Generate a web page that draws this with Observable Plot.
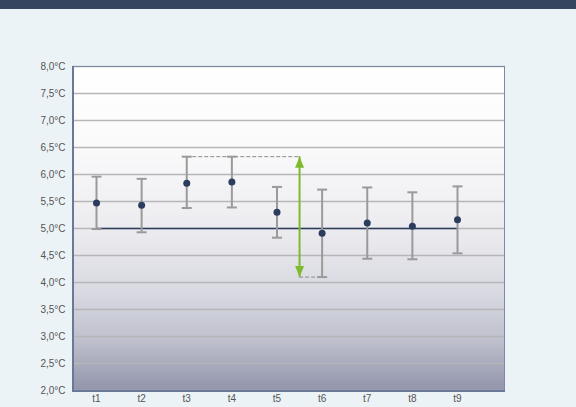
<!DOCTYPE html>
<html>
<head>
<meta charset="utf-8">
<script src="https://cdn.jsdelivr.net/npm/d3@7"></script>
<script src="https://cdn.jsdelivr.net/npm/@observablehq/plot@0.6"></script>
<style>
  body { margin: 0; background: #ecf3f7; width: 576px; height: 407px; overflow: hidden; }
  #banner { height: 9px; background: #35455f; }
  #chart svg { display: block; background: transparent; }
</style>
</head>
<body>
<div id="banner"></div>
<div id="chart"></div>
<script>
// Measurement points and their statistics
const labels = ["t1", "t2", "t3", "t4", "t5", "t6", "t7", "t8", "t9"];
const means  = [5.47, 5.43, 5.84, 5.86, 5.30, 4.91, 5.10, 5.04, 5.16];
const upper  = [5.96, 5.92, 6.33, 6.33, 5.77, 5.72, 5.76, 5.67, 5.78];
const lower  = [4.99, 4.93, 5.38, 5.39, 4.83, 4.10, 4.44, 4.43, 4.54];

// Target temperature and the maximum spread (t3/t4 top to t6 bottom)
const target = 5.0;
const spreadTop = 6.33;
const spreadBottom = 4.10;
const spreadFrom = 3;   // index of t3
const spreadAt = 5.5;   // between t5 and t6
const spreadTo = 6;     // index of t6

const yTicks = [2, 2.5, 3, 3.5, 4, 4.5, 5, 5.5, 6, 6.5, 7, 7.5, 8];

const rows = labels.map((label, i) => ({
  i: i + 1, label, mean: means[i], hi: upper[i], lo: lower[i]
}));

const fmtC = d => d.toFixed(1).replace(".", ",") + "\u00b0C";

// Horizontal cap for the whiskers
const capSymbol = { draw(ctx) { ctx.moveTo(-5, 0); ctx.lineTo(5, 0); } };
// Arrow head with its tip at the origin, pointing up
const headSymbol = { draw(ctx) { ctx.moveTo(0, 0); ctx.lineTo(-4.5, 11); ctx.lineTo(4.5, 11); ctx.closePath(); } };

// Gradient panel behind the plot area
function panel(index, scales, values, dims) {
  const ns = "http://www.w3.org/2000/svg";
  const g = document.createElementNS(ns, "g");
  const x0 = dims.marginLeft, x1 = dims.width - dims.marginRight;
  const y0 = dims.marginTop, y1 = dims.height - dims.marginBottom;
  const defs = document.createElementNS(ns, "defs");
  const lg = document.createElementNS(ns, "linearGradient");
  lg.setAttribute("id", "panelGrad");
  lg.setAttribute("x1", "0"); lg.setAttribute("y1", "0");
  lg.setAttribute("x2", "0"); lg.setAttribute("y2", "1");
  [[0, "#ffffff"], [0.25, "#fafafb"], [0.5, "#ececf0"], [0.7, "#d8d9e1"], [0.85, "#bdbfcc"], [1, "#9295ab"]]
    .forEach(([o, c]) => {
      const s = document.createElementNS(ns, "stop");
      s.setAttribute("offset", o); s.setAttribute("stop-color", c);
      lg.appendChild(s);
    });
  defs.appendChild(lg); g.appendChild(defs);
  const r = document.createElementNS(ns, "rect");
  r.setAttribute("x", x0); r.setAttribute("y", y0);
  r.setAttribute("width", x1 - x0); r.setAttribute("height", y1 - y0);
  r.setAttribute("fill", "url(#panelGrad)");
  g.appendChild(r);
  return g;
}

// Frame: thin top/right edges, heavier left/bottom edges
function border(index, scales, values, dims) {
  const ns = "http://www.w3.org/2000/svg";
  const g = document.createElementNS(ns, "g");
  const x0 = dims.marginLeft, x1 = dims.width - dims.marginRight;
  const y0 = dims.marginTop, y1 = dims.height - dims.marginBottom;
  const line = (ax, ay, bx, by, w, c) => {
    const l = document.createElementNS(ns, "line");
    l.setAttribute("x1", ax); l.setAttribute("y1", ay);
    l.setAttribute("x2", bx); l.setAttribute("y2", by);
    l.setAttribute("stroke", c); l.setAttribute("stroke-width", w);
    g.appendChild(l);
  };
  line(x0, y0 + 0.5, x1, y0 + 0.5, 1, "#7d89a3");
  line(x1 - 0.5, y0, x1 - 0.5, y1, 1, "#7d89a3");
  line(x0 + 1, y0, x0 + 1, y1 + 1, 2, "#6b7998");
  line(x0, y1 + 1, x1, y1 + 1, 2, "#6b7998");
  return g;
}

const chart = Plot.plot({
  width: 576,
  height: 398,
  marginLeft: 72,
  marginRight: 71,
  marginTop: 57,
  marginBottom: 17,
  style: { fontFamily: "'Liberation Sans Narrow', 'Liberation Sans', sans-serif", fontSize: "10px", color: "#555" },
  x: { type: "linear", domain: [1, 9], range: [96, 457], label: null },
  y: { domain: [2, 8], label: null },
  marks: [
    panel,
    Plot.ruleY(yTicks, { stroke: "#b6b6b8", strokeWidth: 1.5 }),
    Plot.axisY({ ticks: yTicks, tickFormat: fmtC, tickSize: 0, tickPadding: 7, fill: "#555", label: null }),
    Plot.axisX({ ticks: rows.map(d => d.i), tickFormat: i => labels[i - 1], tickSize: 0, tickPadding: 4, fill: "#555", label: null }),
    // target line
    Plot.ruleY([target], { x1: 1, x2: 9, stroke: "#2c3c5c", strokeWidth: 1.5 }),
    // spread guides
    Plot.ruleY([spreadTop], { x1: spreadFrom, x2: spreadAt, stroke: "#8a8a8a", strokeWidth: 1, strokeDasharray: "4,2" }),
    Plot.ruleY([spreadBottom], { x1: spreadAt, x2: spreadTo, stroke: "#8a8a8a", strokeWidth: 1, strokeDasharray: "4,2" }),
    // whiskers
    Plot.ruleX(rows, { x: "i", y1: "lo", y2: "hi", stroke: "#9a9a9a", strokeWidth: 2 }),
    Plot.dot(rows, { x: "i", y: "hi", symbol: capSymbol, stroke: "#9a9a9a", strokeWidth: 2, fill: "none", r: 5 }),
    Plot.dot(rows, { x: "i", y: "lo", symbol: capSymbol, stroke: "#9a9a9a", strokeWidth: 2, fill: "none", r: 5 }),
    // means
    Plot.dot(rows, { x: "i", y: "mean", r: 3.5, fill: "#2b3d5d", stroke: "none" }),
    // spread arrow
    Plot.ruleX([spreadAt], { y1: spreadBottom, y2: spreadTop, stroke: "#7dbb2c", strokeWidth: 2 }),
    Plot.dot([spreadTop], { x: () => spreadAt, y: d => d, symbol: headSymbol, fill: "#7dbb2c", stroke: "none", r: 5 }),
    Plot.dot([spreadBottom], { x: () => spreadAt, y: d => d, symbol: headSymbol, rotate: 180, fill: "#7dbb2c", stroke: "none", r: 5 }),
    border
  ]
});

document.getElementById("chart").appendChild(chart);
</script>
</body>
</html>
